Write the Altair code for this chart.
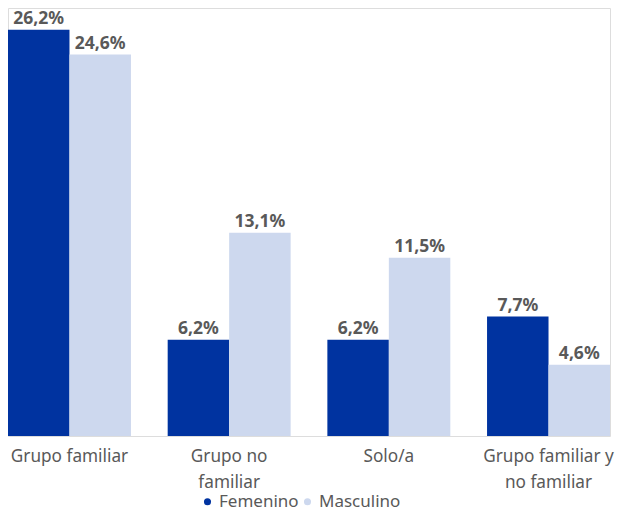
import altair as alt
import pandas as pd

categories = ["Grupo familiar", "Grupo no familiar", "Solo/a", "Grupo familiar y no familiar"]
series = ["Femenino", "Masculino"]
femenino = [26.2, 6.2, 6.2, 7.7]
masculino = [24.6, 13.1, 11.5, 4.6]
colors = ["#0033A0", "#CDD8EE"]

rows = []
for i, c in enumerate(categories):
    rows.append({"cat": c, "sexo": "Femenino", "v": femenino[i]})
    rows.append({"cat": c, "sexo": "Masculino", "v": masculino[i]})
df = pd.DataFrame(rows)
df["label"] = df["v"].map(lambda v: f"{v:.1f}".replace(".", ",") + "%")

FONT = "Noto Sans"

label_expr = ("datum.value == 'Grupo no familiar' ? ['Grupo no', 'familiar'] : "
              "datum.value == 'Grupo familiar y no familiar' ? ['Grupo familiar y', 'no familiar'] : datum.value")

x = alt.X("cat:N", sort=categories, title=None,
          scale=alt.Scale(paddingInner=0.23, paddingOuter=0),
          axis=alt.Axis(labelAngle=0, domain=False, ticks=False, labelFont=FONT,
                        labelFontSize=17.2, labelColor="#595959", labelPadding=11,
                        labelLineHeight=26, labelExpr=label_expr, labelLimit=300,
                        labelFlush=False, labelOverlap=False, labelBound=False))
y = alt.Y("v:Q", title=None, scale=alt.Scale(domain=[0, 27.6], nice=False),
          axis=None)
xo = alt.XOffset("sexo:N", sort=series, scale=alt.Scale(paddingInner=0, paddingOuter=0))

bars = alt.Chart(df).mark_bar().encode(
    x=x, y=y, xOffset=xo,
    color=alt.Color("sexo:N", sort=series, scale=alt.Scale(domain=series, range=colors),
                    legend=alt.Legend(title=None, orient="none", legendX=191, legendY=485,
                                      direction="horizontal",
                                      symbolType="circle", symbolSize=50, labelFont=FONT,
                                      labelFontSize=17, labelColor="#595959",
                                      columnPadding=0, symbolOffset=0,
                                      labelOffset=3)),
)
text = alt.Chart(df).mark_text(baseline="alphabetic", dy=-6, fontWeight="bold",
                               fontSize=17.5, font=FONT, color="#595959").encode(
    x=x, y=y, xOffset=xo, text="label:N")

chart = alt.layer(bars, text).properties(
    width=602, height=428, autosize=alt.AutoSizeParams(type="none")
).configure_view(stroke=None).configure(
    padding={"left": 0, "top": 0, "right": 5, "bottom": 77})
chart.save("out.html", embed_options={"renderer": "svg", "actions": False})
